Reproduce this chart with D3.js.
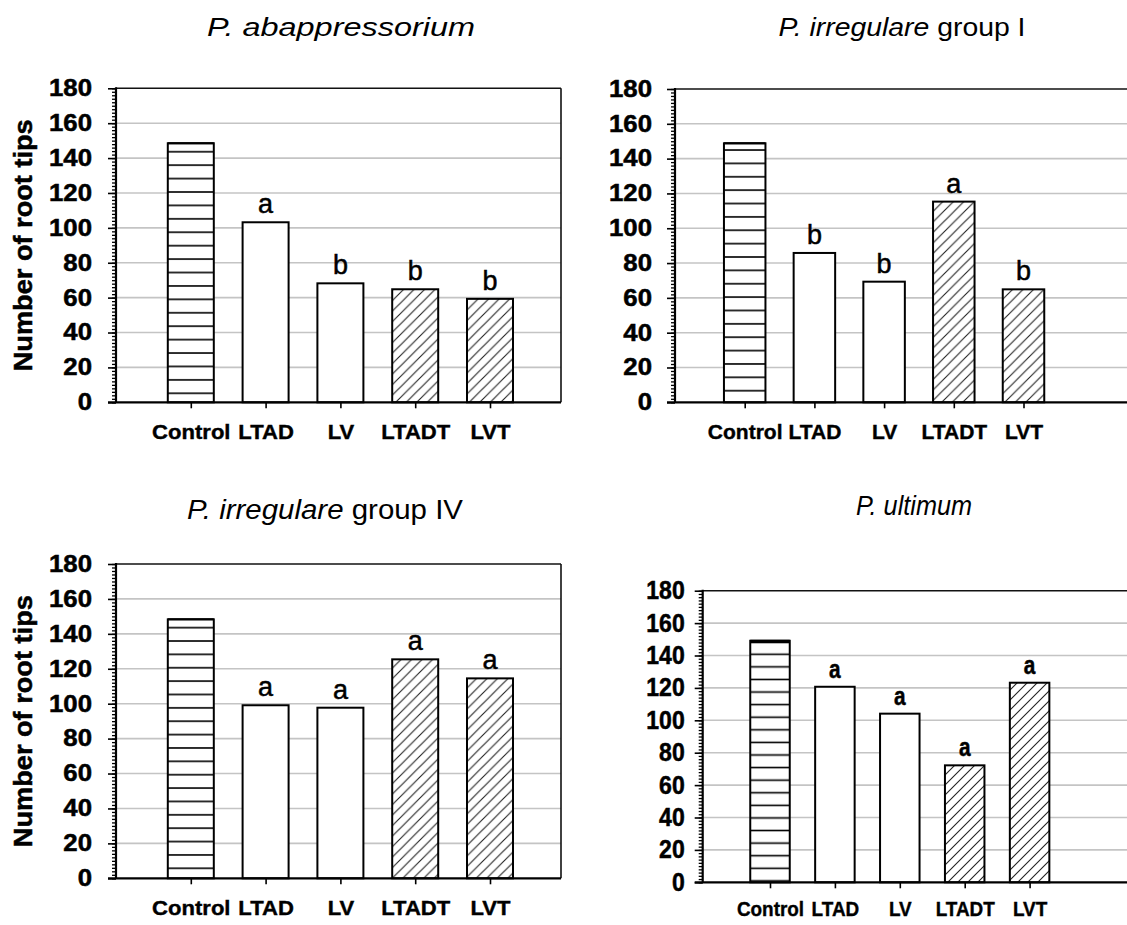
<!DOCTYPE html>
<html>
<head>
<meta charset="utf-8">
<script src="https://cdn.jsdelivr.net/npm/d3@7"></script>
<style>
  html, body { margin: 0; padding: 0; background: #fff; }
  svg { display: block; }
  text { font-family: "Liberation Sans", Arial, Helvetica, sans-serif; fill: #000; }
</style>
</head>
<body>
<svg id="chart" width="1127" height="925"></svg>
<script>
// Treatments on the x axis
const categories = ["Control", "LTAD", "LV", "LTADT", "LVT"];
// Y axis tick labels (number of root tips)
const yTickValues = [0, 20, 40, 60, 80, 100, 120, 140, 160, 180];

// Mean number of root tips per treatment, and significance letters
const abappressoriumRootTips = [148.5, 103.2, 68.2, 64.8, 59.3];
const abappressoriumLetters  = ["", "a", "b", "b", "b"];

const irregularIRootTips = [148.8, 85.8, 69.3, 115.3, 64.9];
const irregularILetters  = ["", "b", "b", "a", "b"];

const irregularIVRootTips = [148.3, 99.1, 97.7, 125.4, 114.5];
const irregularIVLetters  = ["", "a", "a", "a", "a"];

const ultimumRootTips = [149.1, 120.7, 104.1, 72.2, 123.2];
const ultimumLetters  = ["", "a", "a", "a", "a"];

// Fill style per treatment: striped control, open, hatched
const treatmentFill = ["hlines", "open", "open", "hatch", "hatch"];

const svg = d3.select("#chart");
const defs = svg.append("defs");

function fitWidth(sel, width) {
  sel.attr("textLength", width).attr("lengthAdjust", "spacingAndGlyphs");
}
function scaleWidth(sel, factor) {
  sel.each(function () {
    const w = this.getComputedTextLength();
    d3.select(this).attr("textLength", w * factor).attr("lengthAdjust", "spacingAndGlyphs");
  });
}
function heavy(sel, w) {
  sel.attr("stroke", "#000").attr("stroke-width", w).attr("paint-order", "stroke");
}

const panels = [
  {
    id: "p1", values: abappressoriumRootTips, letters: abappressoriumLetters,
    title: [["P. abappressorium", true]], titleX: 341, titleY: 36, titleSize: 26, titleW: 268,
    axisX: 116, top: 88.3, bottom: 402.3, right: 561, first: 74.8, step: 74.8, barW: 46,
    stripeGap: 13.42, stripeAnchor: 393.3, hatch: 10.5,
    yTitle: true, tickFont: 23, tickStretch: 1.12, tickPad: 16,
    catFont: 21, catStretch: 1.05, catPad: 16,
    letterFont: 27, letterBold: false, letterStretch: 1, controlTop: 2
  },
  {
    id: "p2", values: irregularIRootTips, letters: irregularILetters,
    title: [["P. irregulare", true], [" group I", false]], titleX: 902, titleY: 36, titleSize: 26, titleW: 247,
    axisX: 675, top: 89, bottom: 402.3, right: 1140, first: 69.7, step: 69.7, barW: 41.5,
    stripeGap: 13.37, stripeAnchor: 390.7, hatch: 10.5,
    yTitle: false, tickFont: 23, tickStretch: 1.12, tickPad: 15,
    catFont: 21, catStretch: 1.0, catPad: 16,
    letterFont: 27, letterBold: false, letterStretch: 1, controlTop: 2
  },
  {
    id: "p3", values: irregularIVRootTips, letters: irregularIVLetters,
    title: [["P. irregulare", true], [" group IV", false]], titleX: 325, titleY: 519, titleSize: 27, titleW: 276,
    axisX: 116, top: 564, bottom: 878.3, right: 561, first: 74.8, step: 74.8, barW: 46,
    stripeGap: 13.37, stripeAnchor: 868.3, hatch: 10.5,
    yTitle: true, tickFont: 23, tickStretch: 1.12, tickPad: 16,
    catFont: 21, catStretch: 1.05, catPad: 16,
    letterFont: 27, letterBold: false, letterStretch: 1, controlTop: 2
  },
  {
    id: "p4", values: ultimumRootTips, letters: ultimumLetters,
    title: [["P. ultimum", true]], titleX: 914, titleY: 515, titleSize: 27, titleW: 116,
    axisX: 702.7, top: 590.7, bottom: 882.3, right: 1140, first: 67.3, step: 64.9, barW: 39.5,
    stripeGap: 12.59, stripeAnchor: 868.3, hatch: 10,
    yTitle: false, tickFont: 25, tickStretch: 0.92, tickPad: 10,
    catFont: 21, catStretch: 0.9, catPad: 13,
    letterFont: 26, letterBold: true, letterStretch: 0.8, controlTop: 3.5
  }
];

panels.forEach(drawPanel);

function drawPanel(p) {
  const g = svg.append("g").attr("class", "panel " + p.id);

  const y = d3.scaleLinear().domain([0, 180]).range([p.bottom, p.top]);
  const x = d3.scalePoint().domain(categories)
    .range([p.axisX + p.first, p.axisX + p.first + 4 * p.step]);

  // Fill patterns
  const stripes = defs.append("pattern")
    .attr("id", p.id + "-hlines")
    .attr("patternUnits", "userSpaceOnUse")
    .attr("width", 20).attr("height", p.stripeGap)
    .attr("patternTransform", `translate(0,${p.stripeAnchor - p.stripeGap / 2})`);
  stripes.append("rect").attr("width", 20).attr("height", p.stripeGap).attr("fill", "#fff");
  stripes.append("line")
    .attr("x1", 0).attr("x2", 20)
    .attr("y1", p.stripeGap / 2).attr("y2", p.stripeGap / 2)
    .attr("stroke", "#000").attr("stroke-width", 1.6);

  const h = p.hatch;
  const hatch = defs.append("pattern")
    .attr("id", p.id + "-hatch")
    .attr("patternUnits", "userSpaceOnUse")
    .attr("width", h).attr("height", h);
  hatch.append("rect").attr("width", h).attr("height", h).attr("fill", "#fff");
  hatch.append("path")
    .attr("d", `M0,${h} L${h},0 M${-h / 2},${h / 2} L${h / 2},${-h / 2} M${h / 2},${h * 1.5} L${h * 1.5},${h / 2}`)
    .attr("stroke", "#222").attr("stroke-width", 1.1);

  const fillFor = i => treatmentFill[i] === "open" ? "#fff" : `url(#${p.id}-${treatmentFill[i]})`;

  // Horizontal gridlines
  g.append("g").selectAll("line")
    .data(yTickValues.filter(v => v > 0 && v < 180))
    .join("line")
    .attr("x1", p.axisX).attr("x2", p.right)
    .attr("y1", d => y(d)).attr("y2", d => y(d))
    .attr("stroke", "#c4c4c4").attr("stroke-width", 1.6);

  // Plot frame: top and right edges
  g.append("line")
    .attr("x1", p.axisX).attr("x2", p.right)
    .attr("y1", y(180)).attr("y2", y(180))
    .attr("stroke", "#111").attr("stroke-width", 1.6);
  if (p.right < 1127) {
    g.append("line")
      .attr("x1", p.right).attr("x2", p.right)
      .attr("y1", y(180)).attr("y2", y(0))
      .attr("stroke", "#111").attr("stroke-width", 1.6);
  }

  // Bars
  const data = categories.map((c, i) => ({ c, v: p.values[i], letter: p.letters[i], i }));
  g.append("g").selectAll("rect")
    .data(data)
    .join("rect")
    .attr("x", d => x(d.c) - p.barW / 2)
    .attr("y", d => y(d.v))
    .attr("width", p.barW)
    .attr("height", d => y(0) - y(d.v))
    .attr("fill", d => fillFor(d.i))
    .attr("stroke", "#000")
    .attr("stroke-width", 2);

  // Heavier top edge on the striped control bar
  g.append("line")
    .attr("x1", x(categories[0]) - p.barW / 2).attr("x2", x(categories[0]) + p.barW / 2)
    .attr("y1", y(p.values[0]) + p.controlTop / 2 - 1).attr("y2", y(p.values[0]) + p.controlTop / 2 - 1)
    .attr("stroke", "#000").attr("stroke-width", p.controlTop);

  // Significance letters
  const letters = g.append("g").selectAll("text")
    .data(data.filter(d => d.letter))
    .join("text")
    .attr("x", d => x(d.c))
    .attr("y", d => y(d.v) - 9)
    .attr("text-anchor", "middle")
    .attr("font-size", p.letterFont)
    .attr("font-weight", p.letterBold ? "bold" : "normal")
    .text(d => d.letter);
  heavy(letters, 0.5);
  if (p.letterStretch !== 1) scaleWidth(letters, p.letterStretch);

  // Y axis: minor ticks every 2, major ticks with labels
  const minor = g.append("g")
    .attr("transform", `translate(${p.axisX},0)`)
    .call(d3.axisLeft(y).tickValues(d3.range(0, 181, 2)).tickSize(4).tickFormat(""));
  minor.select(".domain").remove();
  minor.selectAll("line").attr("stroke", "#000").attr("stroke-width", 1.3);

  const yAxis = g.append("g")
    .attr("transform", `translate(${p.axisX},0)`)
    .call(d3.axisLeft(y).tickValues(yTickValues).tickSize(8).tickPadding(p.tickPad));
  yAxis.select(".domain").remove();
  yAxis.selectAll("line").attr("stroke", "#000").attr("stroke-width", 1.6);
  const yLabels = yAxis.selectAll("text")
    .attr("font-size", p.tickFont)
    .attr("font-weight", "bold")
    .attr("font-family", "'Liberation Sans', Arial, sans-serif")
    .attr("fill", "#000");
  heavy(yLabels, 0.5);
  scaleWidth(yLabels, p.tickStretch);

  g.append("line")
    .attr("x1", p.axisX).attr("x2", p.axisX)
    .attr("y1", y(180) - 1).attr("y2", y(0))
    .attr("stroke", "#000").attr("stroke-width", 2.2);

  // X axis: baseline, category ticks and labels
  g.append("line")
    .attr("x1", p.axisX - 8).attr("x2", p.right)
    .attr("y1", y(0)).attr("y2", y(0))
    .attr("stroke", "#000").attr("stroke-width", 2.2);

  const xAxis = g.append("g")
    .attr("transform", `translate(0,${y(0)})`)
    .call(d3.axisBottom(x).tickSize(6).tickSizeOuter(0).tickPadding(p.catPad));
  xAxis.select(".domain").remove();
  xAxis.selectAll("line").attr("stroke", "#000").attr("stroke-width", 1.6);
  const xLabels = xAxis.selectAll("text")
    .attr("font-size", p.catFont)
    .attr("font-weight", "bold")
    .attr("font-family", "'Liberation Sans', Arial, sans-serif")
    .attr("fill", "#000");
  heavy(xLabels, 0.4);
  if (p.catStretch !== 1) scaleWidth(xLabels, p.catStretch);

  // Y axis title
  if (p.yTitle) {
    const t = g.append("text")
      .attr("transform", `translate(32,${(p.top + p.bottom) / 2}) rotate(-90)`)
      .attr("text-anchor", "middle")
      .attr("font-size", 25)
      .attr("font-weight", "bold")
      .text("Number of root tips");
    heavy(t, 0.5);
    fitWidth(t, 252);
  }

  // Panel title: species name in italics
  const title = g.append("text")
    .attr("x", p.titleX).attr("y", p.titleY)
    .attr("text-anchor", "middle")
    .attr("font-size", p.titleSize);
  p.title.forEach(([s, it]) => {
    title.append("tspan").attr("font-style", it ? "italic" : "normal").text(s);
  });
  fitWidth(title, p.titleW);
}
</script>
</body>
</html>
